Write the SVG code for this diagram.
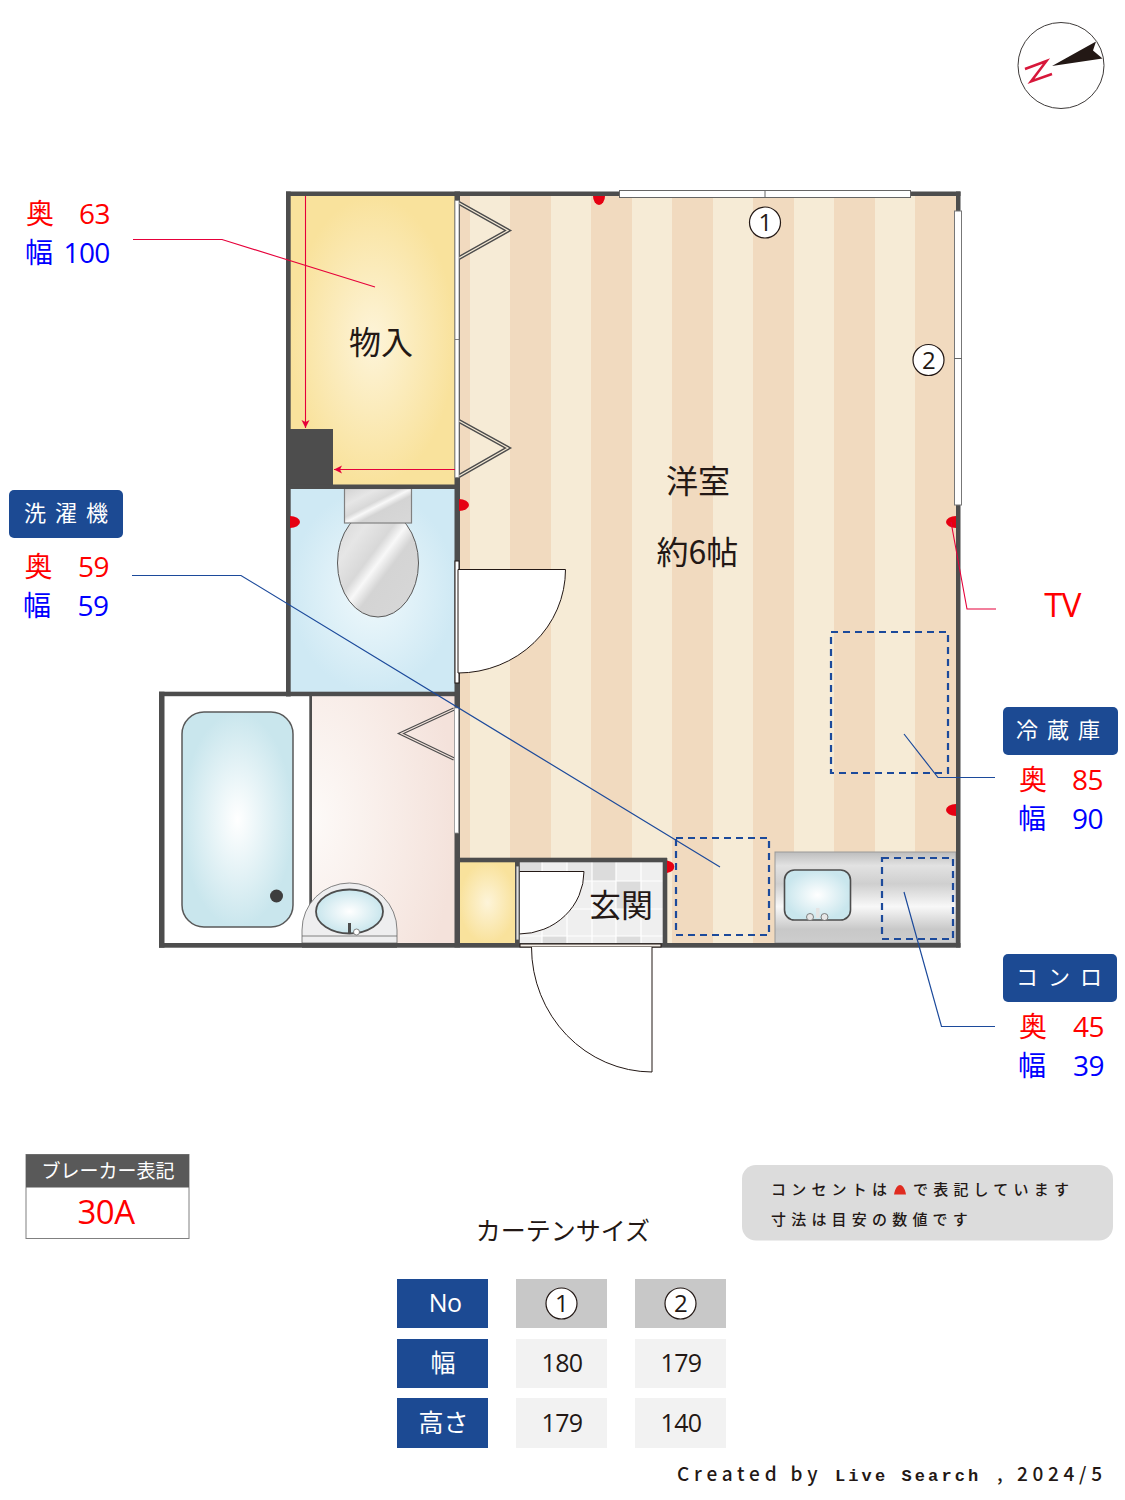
<svg xmlns="http://www.w3.org/2000/svg" width="1125" height="1500" viewBox="0 0 1125 1500">
<style>
text{font-family:"Noto Sans CJK JP","Noto Sans",sans-serif}
.t{fill:#231815}
.r{fill:#f00}
.b{fill:#00f}
.w{fill:#fff}
.n{font-family:"Open Sans","Noto Sans CJK JP",sans-serif;letter-spacing:-0.6px}
.m{text-anchor:middle}
.wall{fill:#4d4d4d}
.leaf{fill:#fff;stroke:#231815;stroke-width:1}
.dash{fill:none;stroke:#1c4a9b;stroke-width:2.200;stroke-dasharray:7 5}
.fold{fill:none;stroke-miterlimit:10}
.note{font-size:15px;letter-spacing:5.200px;fill:#231815;font-weight:500}
.lr{fill:none;stroke:#e6003a;stroke-width:1.100}
.lb{fill:none;stroke:#1c4a9b;stroke-width:1.200}
.out{fill:#e60012}
.cell{fill:#dcdcdc}
.tl{stroke:#fff;stroke-width:1.200}
.badge{font-size:22px;letter-spacing:9px}
.cm{font-family:"Liberation Mono",monospace}
</style>
<defs>
<pattern id="stripes" patternUnits="userSpaceOnUse" x="510" y="0" width="81" height="10"><rect width="81" height="10" fill="#f6ebd6"/><rect width="41" height="10" fill="#f1dabf"/></pattern>
<radialGradient id="gY"><stop offset="0" stop-color="#fdf4d9"/><stop offset="1" stop-color="#f9e29c"/></radialGradient>
<radialGradient id="gB"><stop offset="0" stop-color="#f0f9fc"/><stop offset="1" stop-color="#cfe9f4"/></radialGradient>
<radialGradient id="gT"><stop offset="0" stop-color="#fff"/><stop offset="1" stop-color="#c9e6ed"/></radialGradient>
<radialGradient id="gP" cx="0" cy="0.5" r="1"><stop offset="0" stop-color="#fdfaf8"/><stop offset="1" stop-color="#f4e2db"/></radialGradient>
<linearGradient id="gS" x1="0" y1="0" x2="1" y2="1"><stop offset="0" stop-color="#d2d2d2"/><stop offset="0.25" stop-color="#e6e6e6"/><stop offset="0.42" stop-color="#d8d8d8"/><stop offset="0.5" stop-color="#f8f8f8"/><stop offset="0.6" stop-color="#d4d4d4"/><stop offset="1" stop-color="#d8d8d8"/></linearGradient>
<linearGradient id="gK" x1="0" y1="0" x2="0" y2="1"><stop offset="0" stop-color="#bdbdbd"/><stop offset="0.15" stop-color="#e2e2e2"/><stop offset="0.35" stop-color="#cfcfcf"/><stop offset="0.6" stop-color="#f8f8f8"/><stop offset="0.85" stop-color="#c8c8c8"/><stop offset="1" stop-color="#cdcdcd"/></linearGradient>
<marker id="arr" markerUnits="userSpaceOnUse" markerWidth="9" markerHeight="9" refX="8" refY="4" orient="auto"><path d="M0 0L8 4L0 8L2 4Z" fill="#e6003a"/></marker>
</defs>

<g id="floors">
<rect x="459" y="196" width="497" height="662" fill="url(#stripes)"/>
<rect x="459" y="196" width="11" height="662" fill="#f1dabf"/>
<rect x="667" y="858" width="108" height="85" fill="url(#stripes)"/>
</g>

<g id="storage">
<rect x="290" y="196" width="165" height="289" fill="url(#gY)"/>
<rect x="286" y="429" width="47" height="58" class="wall"/>
<text x="381" y="354" class="t m" font-size="32">物入</text>
</g>

<g id="toilet">
<rect x="290" y="489" width="165" height="203" fill="url(#gB)"/>
<ellipse cx="378" cy="563" rx="40.500" ry="54" fill="url(#gS)" stroke="#595959" stroke-width="1"/>
<rect x="344.500" y="488.500" width="67" height="34.500" fill="url(#gS)" stroke="#808080" stroke-width="1.200"/>
</g>

<g id="bath">
<rect x="164" y="696" width="146" height="247" fill="#fff"/>
<rect x="182" y="712" width="111" height="215" rx="22" fill="url(#gT)" stroke="#595959" stroke-width="1.500"/>
<circle cx="276.500" cy="896" r="6.500" fill="#3e3e3e"/>
</g>

<g id="washroom-floor">
<rect x="312" y="696" width="143" height="247" fill="url(#gP)"/>
</g>

<g id="closet">
<rect x="459" y="862" width="57" height="81" fill="url(#gY)"/>
</g>

<g id="genkan">
<rect x="519" y="862" width="144" height="81" fill="#efefef"/>
<rect x="519" y="862" width="23" height="19" class="cell"/>
<rect x="567" y="862" width="25" height="19" class="cell" opacity=".5"/>
<rect x="592" y="862" width="24" height="19" class="cell"/>
<rect x="616" y="881" width="25" height="28" class="cell"/>
<rect x="542" y="936" width="25" height="7" class="cell"/>
<rect x="616" y="936" width="25" height="7" class="cell"/>
<g class="tl"><line x1="542" y1="862" x2="542" y2="943"/><line x1="567" y1="862" x2="567" y2="943"/><line x1="592" y1="862" x2="592" y2="943"/><line x1="616" y1="862" x2="616" y2="943"/><line x1="641" y1="862" x2="641" y2="943"/><line x1="519" y1="881" x2="663" y2="881"/><line x1="519" y1="909" x2="663" y2="909"/><line x1="519" y1="936" x2="663" y2="936"/></g>
<path d="M519 871.500H584A65 62.500 0 0 1 519 934Z" class="leaf"/>
<text x="621" y="917" class="t m" font-size="32">玄関</text>
</g>

<g id="kitchen">
<rect x="775" y="852" width="181" height="91" fill="url(#gK)" stroke="#999" stroke-width="1"/>
<rect x="784.500" y="870" width="66" height="50" rx="10" fill="url(#gT)" stroke="#4d4d4d" stroke-width="1.600"/>
<rect x="816" y="908" width="3.500" height="10" fill="#e4e4e4"/>
<circle cx="810" cy="917" r="3.500" fill="#e6e6e6" stroke="#666" stroke-width="0.800"/>
<circle cx="824.500" cy="917" r="3.500" fill="#e6e6e6" stroke="#666" stroke-width="0.800"/>
</g>

<g id="walls">
<rect x="286" y="191.500" width="674.500" height="4.500" class="wall"/>
<rect x="286" y="191.500" width="4.700" height="505" class="wall"/>
<rect x="956" y="191.500" width="4.500" height="756" class="wall"/>
<rect x="159" y="691.700" width="301" height="4.500" class="wall"/>
<rect x="159" y="691.700" width="5.500" height="256" class="wall"/>
<rect x="159" y="943" width="801.500" height="4.700" class="wall"/>
<rect x="309.300" y="692" width="2.700" height="255" class="wall"/>
<rect x="454.500" y="191.500" width="5.500" height="756" class="wall"/>
<rect x="286" y="484.500" width="174" height="4.500" class="wall"/>
<rect x="457" y="857.700" width="210" height="4.600" class="wall"/>
<rect x="515" y="858" width="4.800" height="89" class="wall"/>
<rect x="662.700" y="858" width="4.600" height="89" class="wall"/>
</g>

<g id="washroom-sink">
<path d="M302 943V930A47.500 47 0 0 1 397 930V943Z" fill="#eeeeef" stroke="#666" stroke-width="0.800"/>
<line x1="302" y1="936" x2="397" y2="936" stroke="#666" stroke-width="0.800"/>
<ellipse cx="349.500" cy="911.500" rx="33.500" ry="22" fill="url(#gT)" stroke="#4d4d4d" stroke-width="1.800"/>
<rect x="348" y="923" width="3" height="11" fill="#4d4d4d"/>
<circle cx="356.500" cy="932" r="3" fill="#fff" stroke="#666" stroke-width="0.800"/>
<rect x="302" y="943" width="95" height="4.700" class="wall"/>
</g>

<g id="fittings">
<path d="M459 203L508 230.500L459 258" class="fold" stroke="#4d4d4d" stroke-width="4"/>
<path d="M459 203L508 230.500L459 258" class="fold" stroke="#f6ebd6" stroke-width="1.200"/>
<path d="M459 421L508 448L459 476" class="fold" stroke="#4d4d4d" stroke-width="4"/>
<path d="M459 421L508 448L459 476" class="fold" stroke="#f6ebd6" stroke-width="1.200"/>
<path d="M454 709L401 733.500L454 759" class="fold" stroke="#4d4d4d" stroke-width="3.500"/>
<path d="M454 709L401 733.500L454 759" class="fold" stroke="#f4e4dd" stroke-width="1.200"/>
<rect x="455" y="200.500" width="4" height="277" fill="#fff" stroke="#808080" stroke-width="0.800"/>
<line x1="455" y1="339.500" x2="459" y2="339.500" stroke="#666" stroke-width="0.800"/>
<rect x="454.500" y="708" width="4" height="125" fill="#fff" stroke="#999" stroke-width="0.800"/>
<rect x="455" y="561" width="4" height="122" fill="#fff" stroke="#231815" stroke-width="1"/>
<path d="M458 569.500H565.500A107.500 103.500 0 0 1 458 673Z" class="leaf"/>
<rect x="516" y="866" width="3" height="74" fill="#ddd" stroke="#4d4d4d" stroke-width="0.800"/>
<rect x="520" y="944" width="141" height="3" fill="#f4efe8" stroke="#231815" stroke-width="1"/>
<path d="M652 947V1072A121 125 0 0 1 531.500 947" class="leaf"/>
<rect x="619.500" y="190.500" width="291" height="7" fill="#fff" stroke="#666" stroke-width="1"/>
<line x1="765" y1="190" x2="765" y2="198" stroke="#666" stroke-width="1"/>
<rect x="954.500" y="211" width="7" height="294" fill="#fff" stroke="#777" stroke-width="1"/>
<line x1="954" y1="358.500" x2="962" y2="358.500" stroke="#666" stroke-width="1"/>
</g>

<g id="outlets">
<path d="M593 196h12a6 9 0 0 1-12 0Z" class="out"/>
<path d="M459 499v12a10 6 0 0 0 0-12Z" class="out"/>
<path d="M290 516v12a10 6 0 0 0 0-12Z" class="out"/>
<path d="M956 516v12a10 6 0 0 1 0-12Z" class="out"/>
<path d="M956 804v12a10 6 0 0 1 0-12Z" class="out"/>
<path d="M667 860.500v12.500a10 6.500 0 0 0 0-12.500Z" class="out"/>
</g>

<g id="dashed-areas">
<rect x="831" y="632" width="117" height="141" class="dash"/>
<rect x="676" y="838" width="93" height="97" class="dash"/>
<rect x="882" y="858" width="71" height="81" class="dash"/>
</g>

<g id="connectors">
<path d="M133 239.500H222L375 287" class="lr"/>
<path d="M132 575.500H241L720 867" class="lb"/>
<path d="M996 609H967L951 522" class="lr"/>
<path d="M995 777.500H938L904 734" class="lb"/>
<path d="M995 1026.500H941.500L904 892" class="lb"/>
<line x1="305.500" y1="196" x2="305.500" y2="428" class="lr" marker-end="url(#arr)"/>
<line x1="455" y1="469.500" x2="334" y2="469.500" class="lr" marker-end="url(#arr)"/>
</g>

<g id="room-labels">
<text x="698" y="493" class="t m" font-size="32">洋室</text>
<text x="697.500" y="564" class="t m" font-size="32">約6帖</text>
<circle cx="765" cy="222.500" r="15.500" fill="#fff" stroke="#231815" stroke-width="1.200"/>
<text x="765" y="231" class="t m n" font-size="24">1</text>
<circle cx="928.500" cy="360" r="15.500" fill="#fff" stroke="#231815" stroke-width="1.200"/>
<text x="928.500" y="369" class="t m n" font-size="24">2</text>
<text x="1062.500" y="617" class="r m n" font-size="33">TV</text>
</g>

<g id="compass">
<circle cx="1061" cy="65.500" r="43" fill="#fff" stroke="#3e3a39" stroke-width="1"/>
<path d="M1052 66L1096 41.500L1093 50.500L1102.500 58.500Z" fill="#231815"/>
<path d="M1025 69L1046.500 61L1031 81.500L1052 74" fill="none" stroke="#d7173a" stroke-width="2.500"/>
</g>

<g id="label-storage">
<text x="26" y="224" class="r" font-size="28">奥</text><text x="79" y="224" class="r n" font-size="28">63</text>
<text x="25" y="263" class="b" font-size="28">幅</text><text x="63.500" y="263" class="b n" font-size="28">100</text>
</g>
<g id="label-washer">
<rect x="9" y="490" width="114" height="48" rx="5" fill="#1c4a93"/>
<text x="24" y="521" class="w badge">洗濯機</text>
<text x="24.500" y="577" class="r" font-size="28">奥</text><text x="78" y="577" class="r n" font-size="28">59</text>
<text x="23" y="616" class="b" font-size="28">幅</text><text x="77.500" y="616" class="b n" font-size="28">59</text>
</g>
<g id="label-fridge">
<rect x="1003" y="707" width="115" height="48" rx="5" fill="#1c4a93"/>
<text x="1016" y="738" class="w badge">冷蔵庫</text>
<text x="1019" y="790" class="r" font-size="28">奥</text><text x="1072" y="790" class="r n" font-size="28">85</text>
<text x="1018" y="829" class="b" font-size="28">幅</text><text x="1072" y="829" class="b n" font-size="28">90</text>
</g>
<g id="label-stove">
<rect x="1003" y="954" width="114" height="48" rx="5" fill="#1c4a93"/>
<text x="1016" y="985" class="w badge" style="letter-spacing:10px">コンロ</text>
<text x="1019" y="1037" class="r" font-size="28">奥</text><text x="1073" y="1037" class="r n" font-size="28">45</text>
<text x="1018" y="1076" class="b" font-size="28">幅</text><text x="1073" y="1076" class="b n" font-size="28">39</text>
</g>

<g id="breaker">
<rect x="26" y="1154.500" width="163" height="84" fill="#fff" stroke="#808080" stroke-width="1"/>
<rect x="26" y="1154.500" width="163" height="33" fill="#595959"/>
<text x="108" y="1178" class="w m" font-size="19">ブレーカー表記</text>
<text x="106" y="1224" class="r m n" font-size="33">30A</text>
</g>

<g id="note">
<rect x="742" y="1165" width="371" height="75.500" rx="14" fill="#dcdcdc"/>
<text x="771" y="1195" class="note">コンセントは</text>
<path d="M894 1194.500C895 1188 898 1185 900 1185C902 1185 905 1188 906 1194.500Z" fill="#e02b20"/>
<text x="913" y="1195" class="note">で表記しています</text>
<text x="771" y="1225" class="note">寸法は目安の数値です</text>
</g>

<g id="curtain-table">
<text x="563" y="1240" class="t m" font-size="25">カーテンサイズ</text>
<rect x="397" y="1279" width="91" height="49" fill="#1c4a93"/>
<rect x="397" y="1339" width="91" height="49" fill="#1c4a93"/>
<rect x="397" y="1398" width="91" height="50" fill="#1c4a93"/>
<rect x="516" y="1279" width="91" height="49" fill="#c8c8c8"/>
<rect x="635" y="1279" width="91" height="49" fill="#c8c8c8"/>
<rect x="516" y="1339" width="91" height="49" fill="#f2f2f2"/>
<rect x="635" y="1339" width="91" height="49" fill="#f2f2f2"/>
<rect x="516" y="1398" width="91" height="50" fill="#f2f2f2"/>
<rect x="635" y="1398" width="91" height="50" fill="#f2f2f2"/>
<text x="445" y="1312" class="w m n" font-size="25">No</text>
<text x="443" y="1372" class="w m" font-size="25">幅</text>
<text x="443.500" y="1432" class="w m" font-size="25">高さ</text>
<circle cx="561.500" cy="1303.500" r="15.500" fill="#fff" stroke="#231815" stroke-width="1.200"/>
<text x="561.500" y="1312" class="t m n" font-size="24">1</text>
<circle cx="680.500" cy="1303.500" r="15.500" fill="#fff" stroke="#231815" stroke-width="1.200"/>
<text x="680.500" y="1312" class="t m n" font-size="24">2</text>
<text x="562" y="1372" class="t m n" font-size="25">180</text>
<text x="681" y="1372" class="t m n" font-size="25">179</text>
<text x="562" y="1432" class="t m n" font-size="25">179</text>
<text x="681" y="1432" class="t m n" font-size="25">140</text>
</g>

<text id="credit" y="1481" font-size="19" fill="#231815" font-weight="500"><tspan x="677" letter-spacing="4.800">Created by</tspan> <tspan x="835" class="cm" font-size="17" font-weight="700" letter-spacing="3.100">Live Search</tspan> <tspan x="997">,</tspan> <tspan x="1017" letter-spacing="4.700">2024/5</tspan></text>
</svg>
